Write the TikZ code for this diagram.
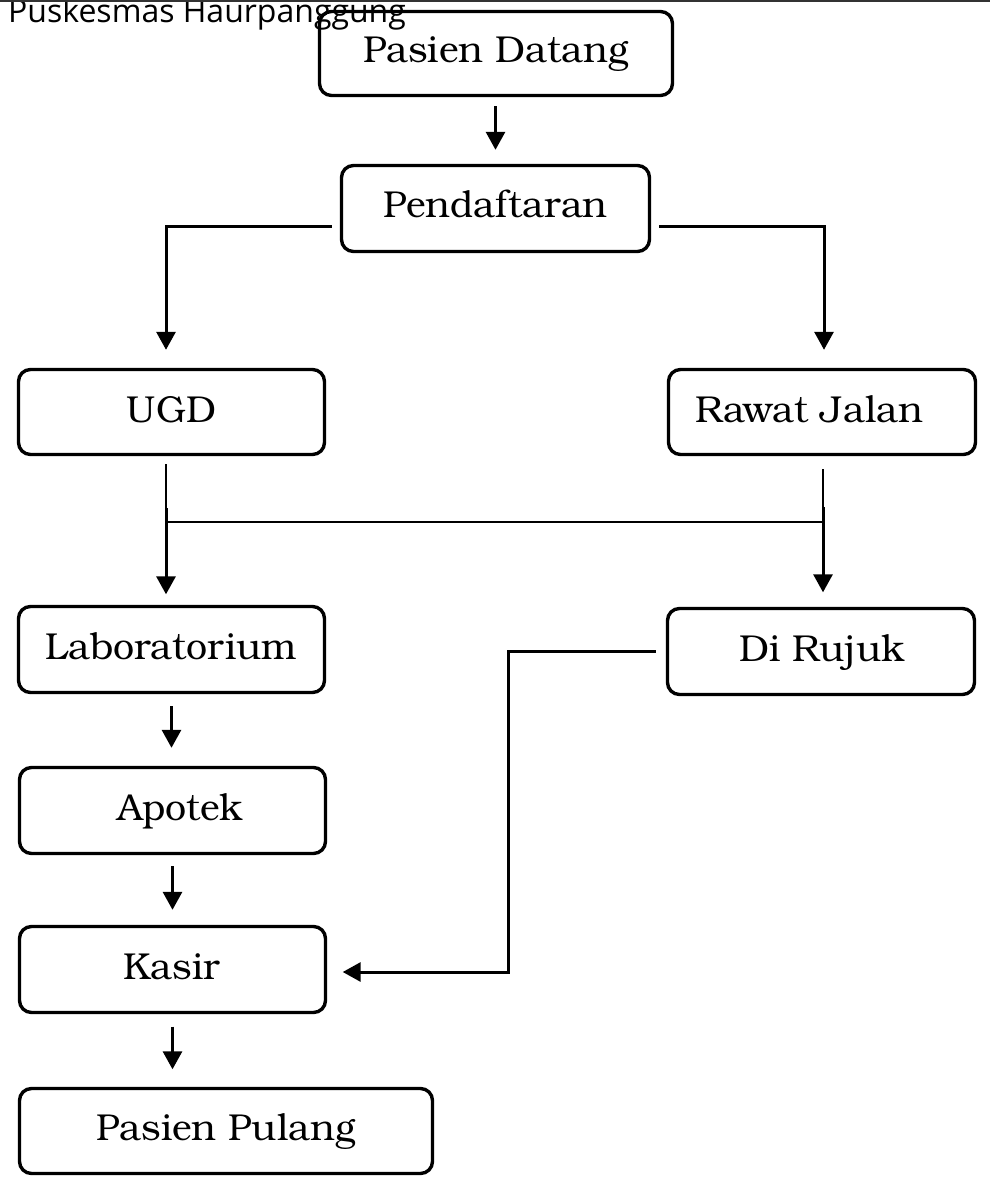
\documentclass[tikz,border=0pt]{standalone}
\usepackage{fontspec}
\setmainfont{TeX Gyre Bonum}
\newfontfamily\titlefont{Open Sans}
\usetikzlibrary{arrows.meta}
\begin{document}
\begin{tikzpicture}[x=1pt,y=-1pt,
  box/.style={draw=black, line width=3.4pt, rounded corners=12pt, inner sep=0pt, fill=white},
  lbl/.style={anchor=base, inner sep=0pt, font=\fontsize{37.5pt}{45pt}\selectfont},
  arr/.style={line width=3pt, -{Triangle[width=19pt,length=18pt]}},
  thinl/.style={line width=1.8pt},
  conn/.style={line width=3pt}
]
\useasboundingbox (0,0) rectangle (990,1177);
\fill[white] (0,0) rectangle (990,1177);

% boxes
\node[box, minimum width=353pt, minimum height=84pt] (pd)  at (496,53.5) {};
\node[box, minimum width=308pt, minimum height=86pt] (pf)  at (495.5,208.5) {};
\node[box, minimum width=306pt, minimum height=85pt] (ugd) at (171.5,412) {};
\node[box, minimum width=307pt, minimum height=85pt] (rj)  at (822,412) {};
\node[box, minimum width=306pt, minimum height=86pt] (lab) at (171.5,649.5) {};
\node[box, minimum width=307pt, minimum height=86pt] (dr)  at (821,651.5) {};
\node[box, minimum width=306pt, minimum height=86pt] (apo) at (172.5,810.5) {};
\node[box, minimum width=306pt, minimum height=86pt] (kas) at (172.5,969.5) {};
\node[box, minimum width=413pt, minimum height=85pt] (pp)  at (226,1131) {};

% title and top rule
\node[anchor=base west, inner sep=0pt, font=\titlefont\fontsize{32pt}{38pt}\selectfont] (title) at (8,22.7) {Puskesmas Haurpanggung};
\coordinate (ruleL) at (0,1);
\coordinate (ruleR) at (990,1);
\draw[line width=1.5pt, black!80] (ruleL) -- (ruleR);

% labels
\node[lbl] (pdT)  at (496,62.5) {Pasien Datang};
\node[lbl] (pfT)  at (495.5,218) {Pendaftaran};
\node[lbl] (ugdT) at (171.5,422) {UGD};
\node[lbl] (rjT)  at (809,422) {Rawat Jalan};
\node[lbl] (labT) at (171.5,659) {Laboratorium};
\node[lbl] (drT)  at (822,661) {Di Rujuk};
\node[lbl] (apoT) at (180,820) {Apotek};
\node[lbl] (kasT) at (171.5,979) {Kasir};
\node[lbl] (ppT)  at (226,1140.5) {Pasien Pulang};

% connectors
\draw[arr] ([yshift=-9pt]pd.south -| pf.north) -- ([yshift=14pt]pf.north);
\draw[arr] ([shift={(-8pt,-17.5pt)}]pf.west) -| ([shift={(-5.5pt,18pt)}]ugd.north);
\draw[arr] ([shift={(8pt,-17.5pt)}]pf.east) -| ([shift={(2pt,18pt)}]rj.north);

\coordinate (jl) at (166,522);
\coordinate (jr) at (823,522);
\draw[thinl] ([shift={(-5.5pt,-8pt)}]ugd.south) -- (jl);
\draw[thinl] ([shift={(1pt,-13pt)}]rj.south) -- (jr);
\draw[thinl] (jl) -- (jr);
\draw[arr] ([yshift=14pt]jl) -- ([shift={(-5.5pt,10.5pt)}]lab.north);
\draw[arr] ([yshift=15pt]jr) -- ([shift={(2pt,14.5pt)}]dr.north);

\draw[arr] ([yshift=-12pt]lab.south) -- ([yshift=18pt]lab.south |- apo.north);
\draw[arr] ([yshift=-11pt]apo.south) -- ([yshift=15pt]apo.south |- kas.north);
\draw[arr] ([yshift=-12.5pt]kas.south) -- ([yshift=17.5pt]kas.south |- pp.north);

\coordinate (bend1) at (508,651.5);
\coordinate (bend2) at (508,972);
\draw[conn, -{Triangle[width=19pt,length=18pt]}] ([xshift=-10pt]dr.west) -- (bend1) -- (bend2) -- ([shift={(15.5pt,-2.5pt)}]kas.east);
\end{tikzpicture}
\end{document}
